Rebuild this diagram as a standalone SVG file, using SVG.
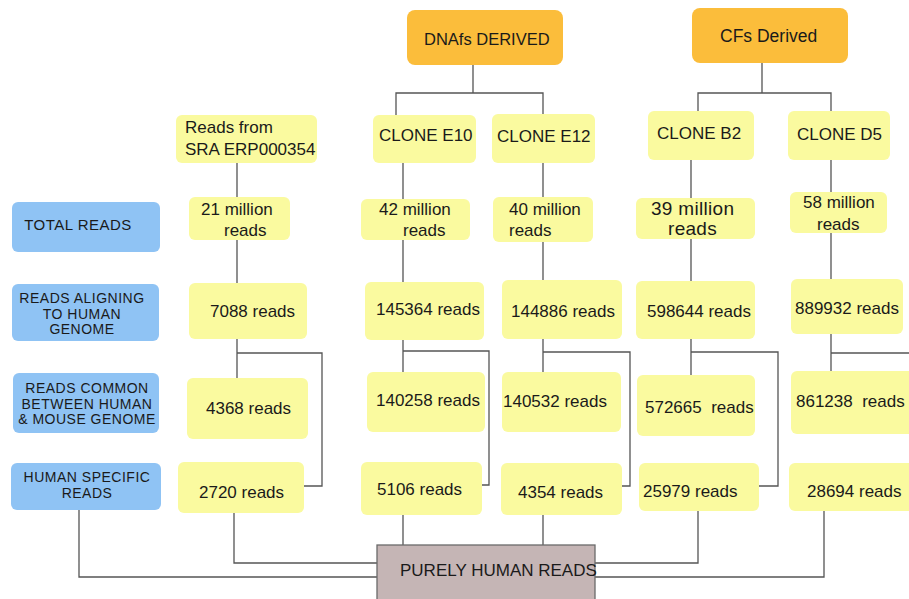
<svg xmlns="http://www.w3.org/2000/svg" width="909" height="599" viewBox="0 0 909 599">
<style>
text{font-family:"Liberation Sans",Arial,sans-serif;fill:#1a1a1a}
.y{fill:#fafa9f}
.b{fill:#8fc3f4}
.o{fill:#fbbd3b}
.t{font-size:17px}
.l{font-size:14px;letter-spacing:0.5px;text-anchor:middle}
.c{fill:none;stroke:#555;stroke-width:1.3}
</style>
<rect width="909" height="599" fill="#fff"/>
<g id="connectors" class="c">
<path d="M473 65V93M396 115V93H543V114"/>
<path d="M762 63V93M698 111V93H831V111"/>
<path d="M237 163V197M237 240V283M237 339V378M237 353H322V486H304"/>
<path d="M403 163V199M403 240V282M403 340V372M403 351H489V485H482"/>
<path d="M543 163V197M543 242V280M543 339V372M543 352H630V486H622"/>
<path d="M691 160V198M691 239V281M691 339V375M691 352H778V486H759"/>
<path d="M831 160V192M831 233V279M831 334V371M831 353H909"/>
<path d="M234 513V563H377M403 515V545M543 515V545M698 511V563H595M824 511V577H595M79 510V577H377"/>
</g>
<g id="n-dnafs"><rect class="o" x="407" y="10" width="156" height="55" rx="8"/><text x="424" y="45" style="font-size:16.5px">DNAfs DERIVED</text></g>
<g id="n-cfs"><rect class="o" x="692" y="8" width="156" height="55" rx="8"/><text x="720" y="42" style="font-size:17.5px">CFs Derived</text></g>
<g id="l-total"><rect class="b" x="12" y="202" width="148" height="50" rx="6"/><text class="l" x="78" y="230" style="font-size:15px">TOTAL READS</text></g>
<g id="l-align"><rect class="b" x="12" y="284" width="147" height="57" rx="6"/><text class="l" x="82" y="303">READS ALIGNING<tspan x="82" y="318.5">TO HUMAN</tspan><tspan x="82" y="334">GENOME</tspan></text></g>
<g id="l-common"><rect class="b" x="13" y="373" width="146" height="60" rx="6"/><text class="l" x="87" y="393">READS COMMON<tspan x="87" y="408.5">BETWEEN HUMAN</tspan><tspan x="87" y="424">&amp; MOUSE GENOME</tspan></text></g>
<g id="l-human"><rect class="b" x="11" y="463" width="150" height="47" rx="6"/><text class="l" x="87" y="482">HUMAN SPECIFIC<tspan x="87" y="497.5">READS</tspan></text></g>
<g id="n-sra"><rect class="y" x="176" y="115" width="141" height="48" rx="6"/><text class="t" x="185" y="133">Reads from<tspan x="185" y="155">SRA ERP000354</tspan></text></g>
<g id="n-e10"><rect class="y" x="373" y="115" width="103" height="48" rx="6"/><text class="t" x="379" y="141">CLONE E10</text></g>
<g id="n-e12"><rect class="y" x="492" y="114" width="103" height="49" rx="6"/><text class="t" x="497" y="142">CLONE E12</text></g>
<g id="n-b2"><rect class="y" x="648" y="111" width="106" height="49" rx="6"/><text class="t" x="657" y="139">CLONE B2</text></g>
<g id="n-d5"><rect class="y" x="788" y="111" width="102" height="49" rx="6"/><text class="t" x="797" y="140">CLONE D5</text></g>
<g id="n-sra-total"><rect class="y" x="189" y="197" width="101" height="43" rx="6"/><text class="t" x="201" y="215">21 million<tspan x="224" y="236">reads</tspan></text></g>
<g id="n-e10-total"><rect class="y" x="361" y="199" width="109" height="41" rx="6"/><text class="t" x="379" y="215">42 million<tspan x="403" y="236">reads</tspan></text></g>
<g id="n-e12-total"><rect class="y" x="493" y="197" width="100" height="45" rx="6"/><text class="t" x="509" y="215">40 million<tspan x="509" y="236">reads</tspan></text></g>
<g id="n-b2-total"><rect class="y" x="636" y="198" width="119" height="41" rx="6"/><text x="651" y="215" style="font-size:19px;letter-spacing:0.3px">39 million<tspan x="668" y="235">reads</tspan></text></g>
<g id="n-d5-total"><rect class="y" x="790" y="192" width="97" height="41" rx="6"/><text class="t" x="803" y="208">58 million<tspan x="817" y="230">reads</tspan></text></g>
<g id="n-sra-align"><rect class="y" x="189" y="283" width="118" height="56" rx="6"/><text class="t" x="210" y="317">7088 reads</text></g>
<g id="n-e10-align"><rect class="y" x="365" y="282" width="119" height="58" rx="6"/><text class="t" x="376" y="315">145364 reads</text></g>
<g id="n-e12-align"><rect class="y" x="502" y="280" width="120" height="59" rx="6"/><text class="t" x="511" y="317">144886 reads</text></g>
<g id="n-b2-align"><rect class="y" x="636" y="281" width="119" height="58" rx="6"/><text class="t" x="647" y="317">598644 reads</text></g>
<g id="n-d5-align"><rect class="y" x="791" y="279" width="112" height="55" rx="6"/><text class="t" x="795" y="314">889932 reads</text></g>
<g id="n-sra-common"><rect class="y" x="187" y="378" width="121" height="61" rx="6"/><text class="t" x="206" y="414">4368 reads</text></g>
<g id="n-e10-common"><rect class="y" x="367" y="372" width="118" height="60" rx="6"/><text class="t" x="376" y="406">140258 reads</text></g>
<g id="n-e12-common"><rect class="y" x="502" y="372" width="119" height="60" rx="6"/><text class="t" x="503" y="407">140532 reads</text></g>
<g id="n-b2-common"><rect class="y" x="637" y="375" width="118" height="61" rx="6"/><text class="t" x="645" y="413" xml:space="preserve">572665  reads</text></g>
<g id="n-d5-common"><rect class="y" x="791" y="371" width="125" height="63" rx="6"/><text class="t" x="796" y="407" xml:space="preserve">861238  reads</text></g>
<g id="n-sra-human"><rect class="y" x="178" y="462" width="126" height="51" rx="6"/><text class="t" x="199" y="498">2720 reads</text></g>
<g id="n-e10-human"><rect class="y" x="361" y="462" width="121" height="53" rx="6"/><text class="t" x="377" y="495">5106 reads</text></g>
<g id="n-e12-human"><rect class="y" x="501" y="463" width="121" height="52" rx="6"/><text class="t" x="518" y="498">4354 reads</text></g>
<g id="n-b2-human"><rect class="y" x="639" y="463" width="120" height="48" rx="6"/><text class="t" x="643" y="497">25979 reads</text></g>
<g id="n-d5-human"><rect class="y" x="789" y="463" width="125" height="48" rx="6"/><text class="t" x="807" y="497">28694 reads</text></g>
<g id="n-purely"><rect x="377" y="545" width="218" height="60" fill="#c5b5b5" stroke="#6a6a6a" stroke-width="1.3"/><text class="t" x="400" y="576">PURELY HUMAN READS</text></g>
</svg>
